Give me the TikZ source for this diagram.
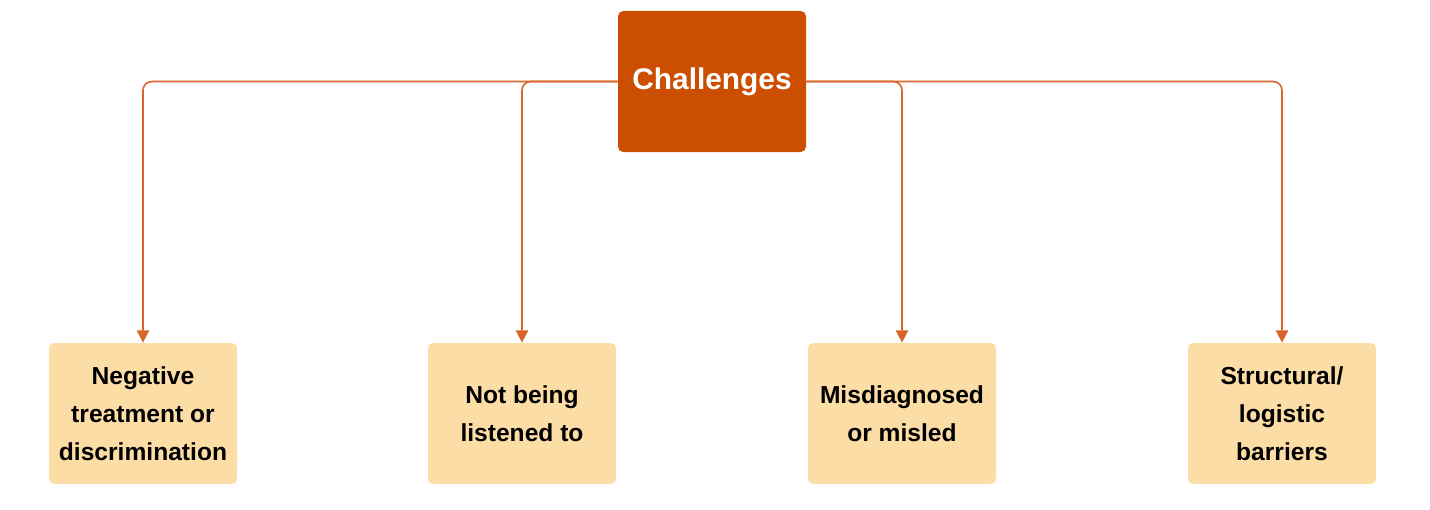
\documentclass[tikz,border=0pt]{standalone}
\usepackage{fontspec}
\setmainfont{Liberation Sans}
\usetikzlibrary{arrows.meta}
\definecolor{top}{HTML}{CC4E00}
\definecolor{leaf}{HTML}{FDDDA6}
\definecolor{line}{HTML}{D9652A}
\begin{document}
\begin{tikzpicture}[x=0.02cm,y=-0.02cm,
  topbox/.style={fill=top,rounded corners=3pt,minimum width=188*0.02cm,minimum height=141*0.02cm,text=white,font=\bfseries\fontsize{17}{20}\selectfont,inner sep=0},
  leafbox/.style={fill=leaf,rounded corners=3pt,minimum width=188*0.02cm,minimum height=141*0.02cm,font=\bfseries\fontsize{14}{21.5}\selectfont,align=center,inner sep=0},
  conn/.style={draw=line,line width=0.9pt,rounded corners=5pt,-{Triangle[length=7pt,width=7pt]}}]
\useasboundingbox (0,0) rectangle (1430,510);
\node[topbox] (c) at (712,81.5) {Challenges};
\node[leafbox] (a) at (143,413.5) {Negative\\treatment or\\discrimination};
\node[leafbox] (b) at (522,413.5) {Not being\\listened to};
\node[leafbox] (d) at (902,413.5) {Misdiagnosed\\or misled};
\node[leafbox] (e) at (1282,413.5) {Structural/\\logistic\\barriers};
\draw[conn] (c.west) -| (a.north);
\draw[conn] (c.west) -| (b.north);
\draw[conn] (c.east) -| (d.north);
\draw[conn] (c.east) -| (e.north);
\end{tikzpicture}
\end{document}
